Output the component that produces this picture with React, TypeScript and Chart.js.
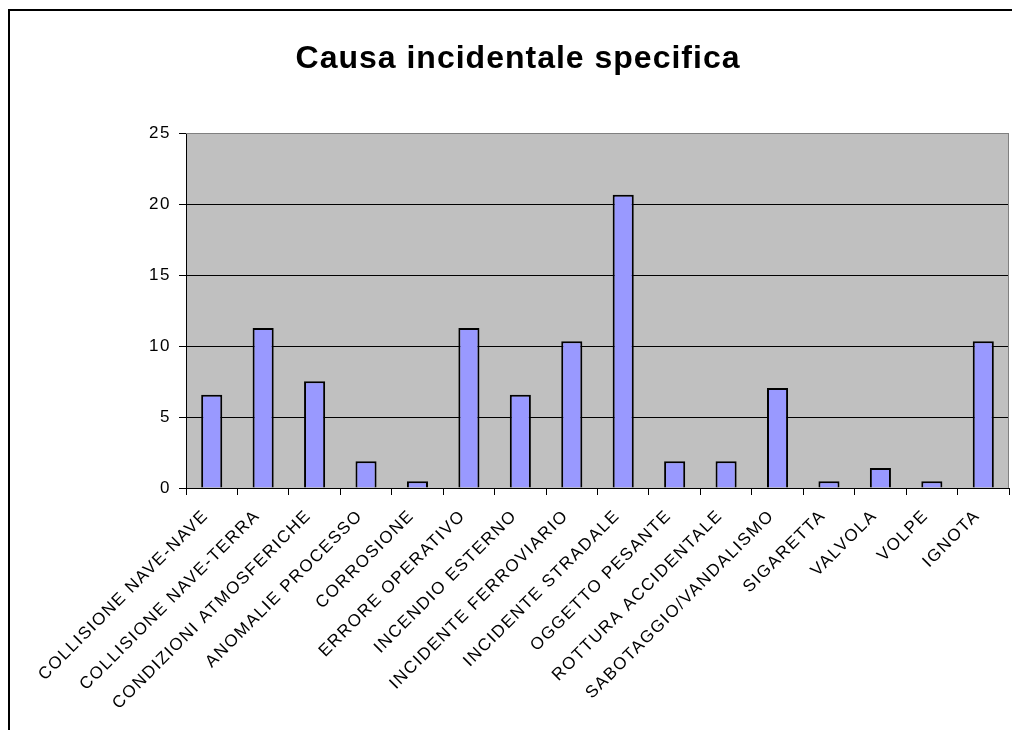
import React, { useEffect, useRef } from "react";
import { Chart, registerables } from "chart.js";

Chart.register(...registerables);

const categories: string[] = [
  "COLLISIONE NAVE-NAVE",
  "COLLISIONE NAVE-TERRA",
  "CONDIZIONI ATMOSFERICHE",
  "ANOMALIE PROCESSO",
  "CORROSIONE",
  "ERRORE OPERATIVO",
  "INCENDIO ESTERNO",
  "INCIDENTE FERROVIARIO",
  "INCIDENTE STRADALE",
  "OGGETTO PESANTE",
  "ROTTURA ACCIDENTALE",
  "SABOTAGGIO/VANDALISMO",
  "SIGARETTA",
  "VALVOLA",
  "VOLPE",
  "IGNOTA",
];

const values: number[] = [
  6.57, 11.27, 7.51, 1.88, 0.47, 11.27, 6.57, 10.33, 20.66, 1.88, 1.88, 7.04,
  0.47, 1.41, 0.47, 10.33,
];

const titleText = "Causa incidentale specifica";
const yMin = 0;
const yMax = 25;
const yStep = 5;

const FONT = "'Liberation Sans', Arial, Helvetica, sans-serif";
const SPACING = "1.5px";

const framePlugin = {
  id: "framePlugin",
  beforeLayout(chart: any) {
    chart.ctx.letterSpacing = SPACING;
  },
  beforeDraw(chart: any) {
    const { ctx, chartArea } = chart;
    ctx.letterSpacing = SPACING;
    ctx.save();
    ctx.fillStyle = "#ffffff";
    ctx.fillRect(0, 0, chart.width, chart.height);
    ctx.fillStyle = "#C0C0C0";
    ctx.fillRect(
      chartArea.left,
      chartArea.top,
      chartArea.right - chartArea.left,
      chartArea.bottom - chartArea.top
    );
    ctx.restore();
  },
  afterDraw(chart: any) {
    const { ctx, chartArea } = chart;
    ctx.save();
    ctx.strokeStyle = "#808080";
    ctx.lineWidth = 1;
    ctx.beginPath();
    ctx.moveTo(chartArea.left, chartArea.top + 0.5);
    ctx.lineTo(chartArea.right - 0.5, chartArea.top + 0.5);
    ctx.lineTo(chartArea.right - 0.5, chartArea.bottom);
    ctx.stroke();
    ctx.strokeStyle = "#000000";
    ctx.lineWidth = 2;
    ctx.strokeRect(9, 10, chart.width + 20, chart.height + 20);
    ctx.letterSpacing = "1px";
    ctx.fillStyle = "#000000";
    ctx.font = "bold 32px " + FONT;
    ctx.textAlign = "center";
    ctx.textBaseline = "alphabetic";
    ctx.fillText(titleText, 518, 68);
    ctx.restore();
  },
};

export default function App() {
  const ref = useRef<HTMLCanvasElement | null>(null);

  useEffect(() => {
    if (!ref.current) return;
    const chart = new Chart(ref.current, {
      type: "bar",
      data: {
        labels: categories,
        datasets: [
          {
            data: values,
            backgroundColor: "#9999FF",
            borderColor: "#000000",
            borderWidth: 2,
            categoryPercentage: 1,
            barPercentage: 0.41,
          },
        ],
      },
      options: {
        animation: false,
        responsive: false,
        maintainAspectRatio: false,
        layout: { padding: { left: 0, right: 3, top: 133, bottom: 0 } },
        plugins: {
          legend: { display: false },
          tooltip: { enabled: false },
          title: { display: false },
        },
        scales: {
          x: {
            offset: true,
            grid: {
              offset: true,
              drawOnChartArea: false,
              drawTicks: true,
              tickLength: 7,
              tickColor: "#000000",
            },
            border: { color: "#000000", width: 1 },
            ticks: {
              autoSkip: false,
              maxRotation: 45,
              minRotation: 45,
              color: "#000000",
              font: { family: FONT, size: 17 },
              padding: 11,
              labelOffset: -6,
            },
            afterFit(scale: any) {
              scale.height = 242;
            },
          },
          y: {
            min: yMin,
            max: yMax,
            ticks: {
              stepSize: yStep,
              color: "#000000",
              font: { family: FONT, size: 17 },
              padding: 8,
            },
            grid: {
              color: (c: any) =>
                c.tick && c.tick.value === yMax ? "#808080" : "#000000",
              tickColor: "#000000",
              tickLength: 7,
              lineWidth: 1,
            },
            border: { color: "#000000", width: 1 },
            afterFit(scale: any) {
              scale.width = 186;
            },
          },
        },
      },
      plugins: [framePlugin],
    });
    return () => chart.destroy();
  }, []);

  return (
    <div style={{ position: "absolute", left: 0, top: 0, width: 1012, height: 730 }}>
      <canvas ref={ref} width={1012} height={730} style={{ display: "block" }} />
    </div>
  );
}
